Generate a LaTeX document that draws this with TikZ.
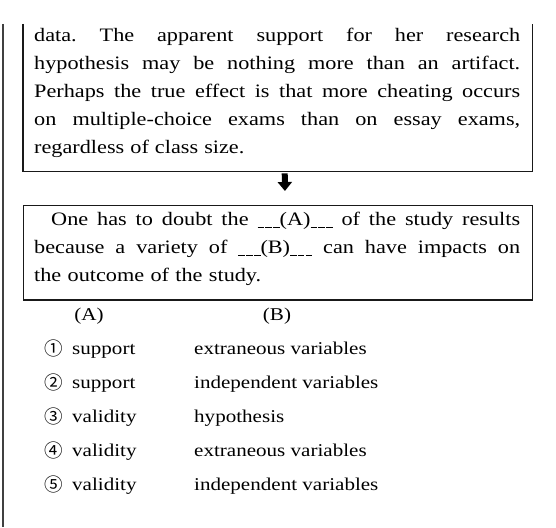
\documentclass[tikz,border=0pt]{standalone}
\usepackage{fontspec}
\setmainfont{Liberation Serif}[FakeStretch=1.17]
\newfontfamily\circfont{Noto Sans CJK KR}
\usetikzlibrary{arrows.meta}
\newcommand\jline[1]{\leavevmode\hbox to 486pt{\frenchspacing\spaceskip=0.25em plus 1fil\relax #1}}
\newcommand\blank{\rule[-2.5pt]{6.5pt}{0.9pt}\kern1.3pt\rule[-2.5pt]{6.5pt}{0.9pt}\kern1.3pt\rule[-2.5pt]{6.5pt}{0.9pt}}
\begin{document}
\begin{tikzpicture}[x=1pt,y=-1pt,
  txt/.style={font=\fontsize{19}{28}\selectfont, inner sep=0pt, anchor=base west, text width=486pt, align=left},
  opt/.style={font=\fontsize{18}{22}\selectfont, inner sep=0pt, anchor=base west},
  circ/.style={font=\circfont\fontsize{18.5}{18.5}\selectfont, inner sep=0pt, anchor=base west},
  boxline/.style={draw=black!90, line width=1.2pt}]
\useasboundingbox (0,0) rectangle (556,527);
\fill[white] (0,0) rectangle (556,527);
\draw[line width=2pt, black!75] (3,24) -- (3,527);
% box 1 (continued from previous page: no top side)
\node[minimum width=509pt, minimum height=147pt, inner sep=0pt, anchor=north west] (box1) at (23,24) {};
\draw[boxline] (box1.north west) -- (box1.south west) -- (box1.south east) -- (box1.north east);
\node[txt] (t1) at (34,41.5) {\jline{data. The apparent support for her research}\\
\jline{hypothesis may be nothing more than an artifact.}\\
\jline{Perhaps the true effect is that more cheating occurs}\\
\jline{on multiple-choice exams than on essay exams,}\\
{\spaceskip=0.32em\relax regardless of class size.}};
% box 2
\node[boxline, minimum width=509pt, minimum height=94pt, inner sep=0pt, anchor=north west] (box2) at (23,205) {};
\draw[line width=2.2pt, black!90] (box2.south west) -- (box2.south east);
\node[txt] (t2) at (34,225.5) {\jline{\hspace{17pt}One has to doubt the \blank(A)\blank{} of the study results}\\
\jline{because a variety of \blank(B)\blank{} can have impacts on}\\
the outcome of the study.};
% arrow
\draw[line width=6pt, -{Triangle[width=14pt,length=9pt]}, shorten <=2pt, shorten >=14pt]
  ([xshift=7pt]box1.south) -- ([xshift=7pt]box2.north);
% options
\node[opt, anchor=base] (hA) at (89,320) {(A)};
\node[opt, anchor=base] (hB) at (277,320) {(B)};
\foreach \n/\c/\a/\b in {1/①/support/extraneous variables, 2/②/support/independent variables, 3/③/validity/hypothesis, 4/④/validity/extraneous variables, 5/⑤/validity/independent variables}{
  \node[circ] (c\n) at (44,321.5+34*\n) {\c};
  \node[opt] (a\n) at (72,320+34*\n) {\a};
  \node[opt] (b\n) at (194,320+34*\n) {\b};
}
\end{tikzpicture}
\end{document}
